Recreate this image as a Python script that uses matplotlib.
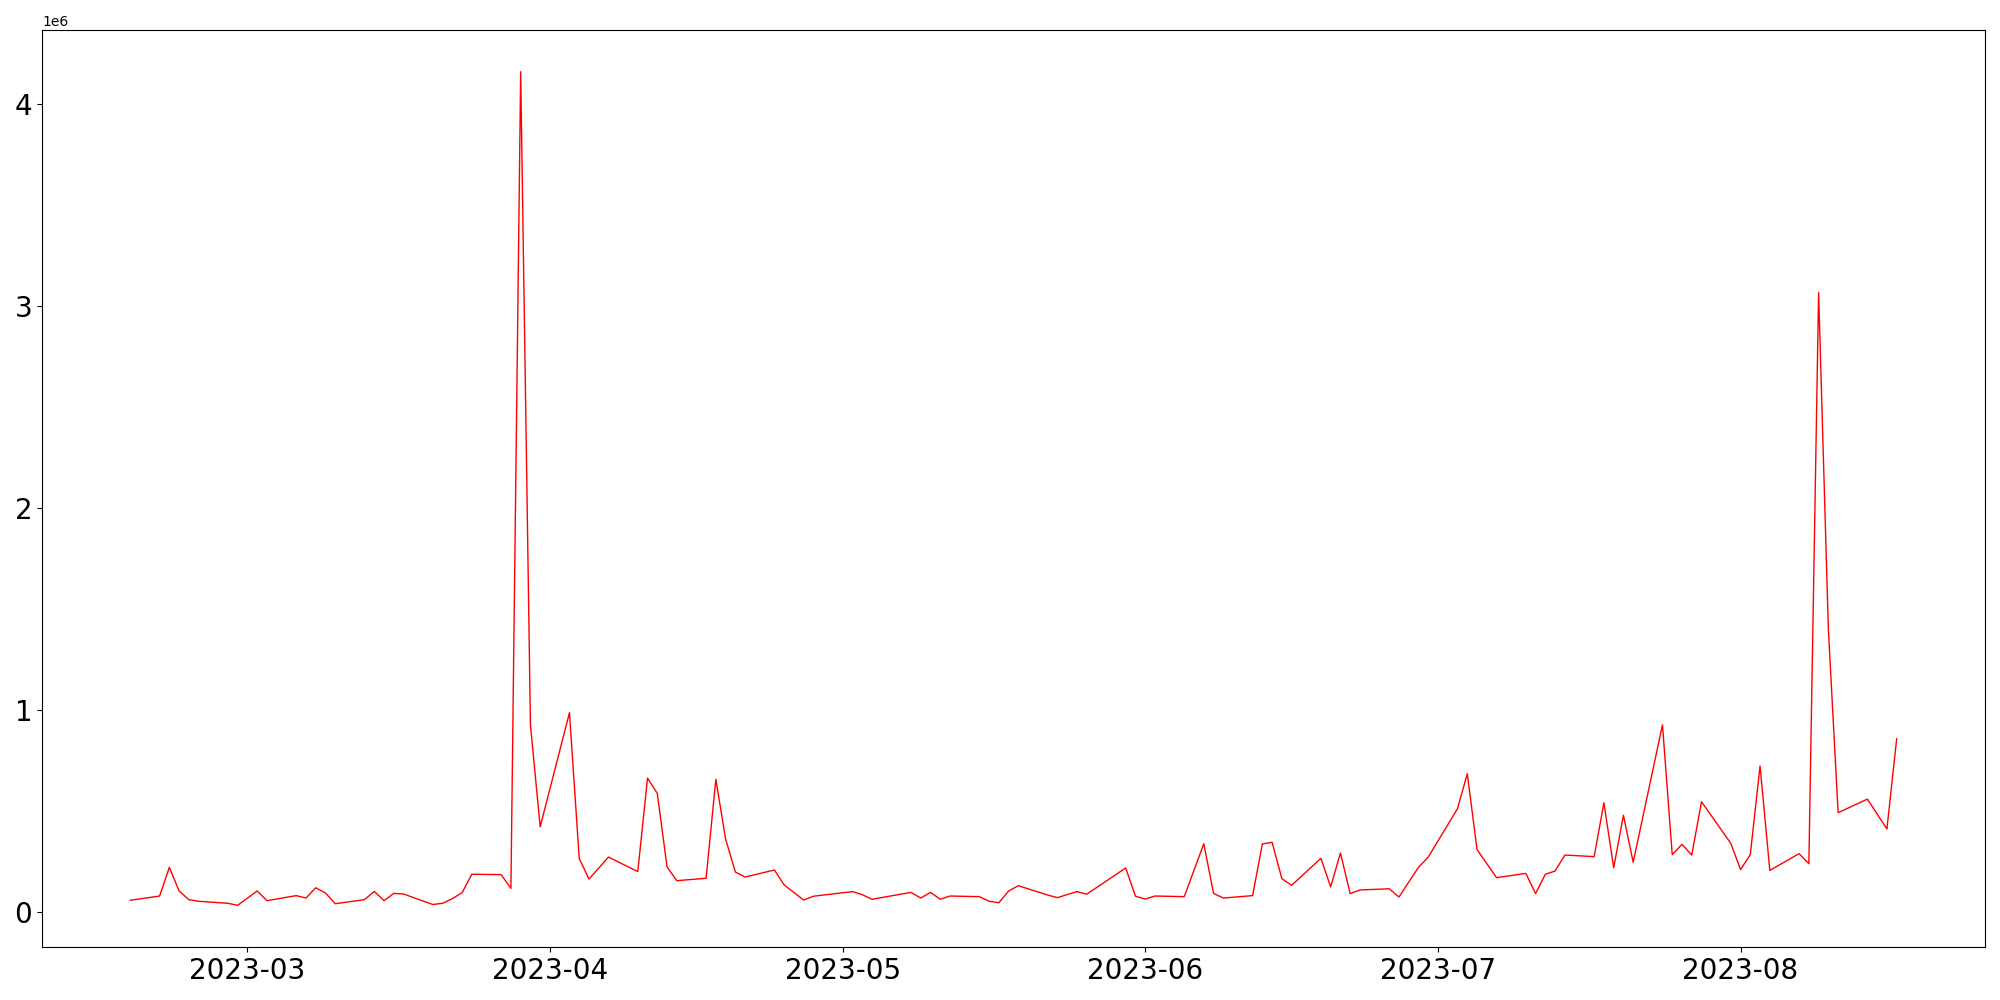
import matplotlib
matplotlib.use("Agg")
import matplotlib.pyplot as plt
import matplotlib.dates as mdates
import pandas as pd

dates = [
    "2023-02-17", "2023-02-20", "2023-02-21", "2023-02-22", "2023-02-23", "2023-02-24",
    "2023-02-27", "2023-02-28", "2023-03-02", "2023-03-03", "2023-03-06", "2023-03-07",
    "2023-03-08", "2023-03-09", "2023-03-10", "2023-03-13", "2023-03-14", "2023-03-15",
    "2023-03-16", "2023-03-17", "2023-03-20", "2023-03-21", "2023-03-22", "2023-03-23",
    "2023-03-24", "2023-03-27", "2023-03-28", "2023-03-29", "2023-03-30", "2023-03-31",
    "2023-04-03", "2023-04-04", "2023-04-05", "2023-04-07", "2023-04-10", "2023-04-11",
    "2023-04-12", "2023-04-13", "2023-04-14", "2023-04-17", "2023-04-18", "2023-04-19",
    "2023-04-20", "2023-04-21", "2023-04-24", "2023-04-25", "2023-04-27", "2023-04-28",
    "2023-05-02", "2023-05-03", "2023-05-04", "2023-05-08", "2023-05-09", "2023-05-10",
    "2023-05-11", "2023-05-12", "2023-05-15", "2023-05-16", "2023-05-17", "2023-05-18",
    "2023-05-19", "2023-05-22", "2023-05-23", "2023-05-25", "2023-05-26", "2023-05-30",
    "2023-05-31", "2023-06-01", "2023-06-02", "2023-06-05", "2023-06-07", "2023-06-08",
    "2023-06-09", "2023-06-12", "2023-06-13", "2023-06-14", "2023-06-15", "2023-06-16",
    "2023-06-19", "2023-06-20", "2023-06-21", "2023-06-22", "2023-06-23", "2023-06-26",
    "2023-06-27", "2023-06-28", "2023-06-29", "2023-06-30", "2023-07-03", "2023-07-04",
    "2023-07-05", "2023-07-07", "2023-07-10", "2023-07-11", "2023-07-12", "2023-07-13",
    "2023-07-14", "2023-07-17", "2023-07-18", "2023-07-19", "2023-07-20", "2023-07-21",
    "2023-07-24", "2023-07-25", "2023-07-26", "2023-07-27", "2023-07-28", "2023-07-31",
    "2023-08-01", "2023-08-02", "2023-08-03", "2023-08-04", "2023-08-07", "2023-08-08",
    "2023-08-09", "2023-08-10", "2023-08-11", "2023-08-14", "2023-08-16", "2023-08-17",
]

values_m = [
    0.058, 0.079, 0.221, 0.104, 0.061, 0.053,
    0.043, 0.033, 0.104, 0.056, 0.081, 0.069,
    0.120, 0.094, 0.041, 0.061, 0.102, 0.056,
    0.092, 0.089, 0.037, 0.043, 0.066, 0.096,
    0.187, 0.185, 0.117, 4.162, 0.926, 0.422,
    0.987, 0.265, 0.163, 0.272, 0.200, 0.663,
    0.587, 0.223, 0.155, 0.167, 0.657, 0.361,
    0.198, 0.173, 0.208, 0.134, 0.059, 0.078,
    0.101, 0.086, 0.063, 0.097, 0.069, 0.097,
    0.063, 0.079, 0.076, 0.053, 0.046, 0.104,
    0.130, 0.084, 0.071, 0.101, 0.088, 0.218,
    0.078, 0.064, 0.079, 0.076, 0.338, 0.092,
    0.069, 0.081, 0.337, 0.345, 0.165, 0.132,
    0.266, 0.124, 0.292, 0.091, 0.109, 0.115,
    0.074, 0.148, 0.221, 0.272, 0.512, 0.685,
    0.309, 0.170, 0.191, 0.091, 0.187, 0.203,
    0.282, 0.274, 0.541, 0.219, 0.479, 0.246,
    0.927, 0.284, 0.335, 0.282, 0.546, 0.340,
    0.210, 0.284, 0.723, 0.206, 0.289, 0.239,
    3.068, 1.400, 0.492, 0.559, 0.411, 0.858,
]

x = pd.to_datetime(dates)
y = [v * 1e6 for v in values_m]

fig = plt.figure(figsize=(20, 10), dpi=100)
ax = fig.add_axes([0.021, 0.053, 0.9715, 0.917])
ax.plot(x, y, color="red", linewidth=1.0)

ax.xaxis.set_major_locator(mdates.MonthLocator())
ax.xaxis.set_major_formatter(mdates.DateFormatter("%Y-%m"))
ax.tick_params(axis="both", labelsize=20)

fig.savefig("out.png", dpi=100)
